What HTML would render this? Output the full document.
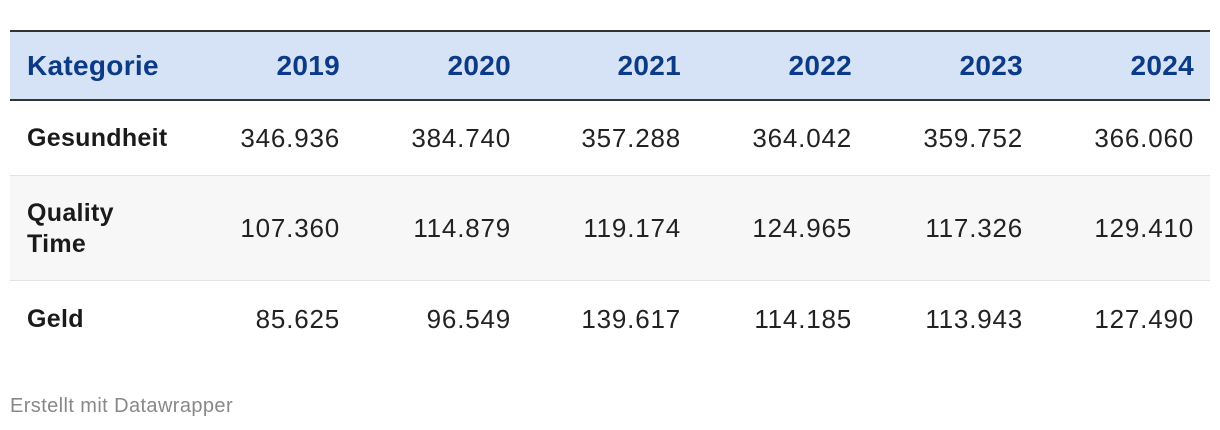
<!DOCTYPE html>
<html><head><meta charset="utf-8"><style>
body{margin:0;width:1220px;height:430px;background:#fff;font-family:"Liberation Sans",Arial,sans-serif;position:relative;overflow:hidden}
.hdr{position:absolute;left:10px;width:1200px;top:30px;height:71px;background:#d6e3f6;border-top:2px solid #333;border-bottom:2px solid #333;box-sizing:border-box}
.r2{position:absolute;left:10px;width:1200px;top:175px;height:106px;background:#f7f7f7;border-top:1px solid #e3e3e3;border-bottom:1px solid #e3e3e3;box-sizing:border-box}
.t{position:absolute;white-space:nowrap;line-height:1}
.h{font-weight:bold;color:#0b3a86;font-size:28px;letter-spacing:0.3px}
.b{font-size:26px;color:#222;letter-spacing:0.8px}
.l{font-weight:bold;color:#1a1a1a;font-size:25px;letter-spacing:0.3px}
.r{text-align:right;width:200px}
.f{font-size:20px;color:#888;letter-spacing:0.4px}
</style></head><body>
<div class="hdr"></div><div class="r2"></div>
<div class="t h" style="left:27px;top:52px">Kategorie</div>
<div class="t h r" style="left:140px;top:52px">2019</div>
<div class="t h r" style="left:311px;top:52px">2020</div>
<div class="t h r" style="left:481px;top:52px">2021</div>
<div class="t h r" style="left:652px;top:52px">2022</div>
<div class="t h r" style="left:823px;top:52px">2023</div>
<div class="t h r" style="left:994px;top:52px">2024</div>

<div class="t l" style="left:27px;top:126px">Gesundheit</div>
<div class="t b r" style="left:140px;top:125px">346.936</div>
<div class="t b r" style="left:311px;top:125px">384.740</div>
<div class="t b r" style="left:481px;top:125px">357.288</div>
<div class="t b r" style="left:652px;top:125px">364.042</div>
<div class="t b r" style="left:823px;top:125px">359.752</div>
<div class="t b r" style="left:994px;top:125px">366.060</div>

<div class="t l" style="left:27px;top:198px;line-height:31px">Quality<br>Time</div>
<div class="t b r" style="left:140px;top:215px">107.360</div>
<div class="t b r" style="left:311px;top:215px">114.879</div>
<div class="t b r" style="left:481px;top:215px">119.174</div>
<div class="t b r" style="left:652px;top:215px">124.965</div>
<div class="t b r" style="left:823px;top:215px">117.326</div>
<div class="t b r" style="left:994px;top:215px">129.410</div>

<div class="t l" style="left:27px;top:307px">Geld</div>
<div class="t b r" style="left:140px;top:306px">85.625</div>
<div class="t b r" style="left:311px;top:306px">96.549</div>
<div class="t b r" style="left:481px;top:306px">139.617</div>
<div class="t b r" style="left:652px;top:306px">114.185</div>
<div class="t b r" style="left:823px;top:306px">113.943</div>
<div class="t b r" style="left:994px;top:306px">127.490</div>

<div class="t f" style="left:10px;top:396px">Erstellt mit Datawrapper</div>
</body></html>
